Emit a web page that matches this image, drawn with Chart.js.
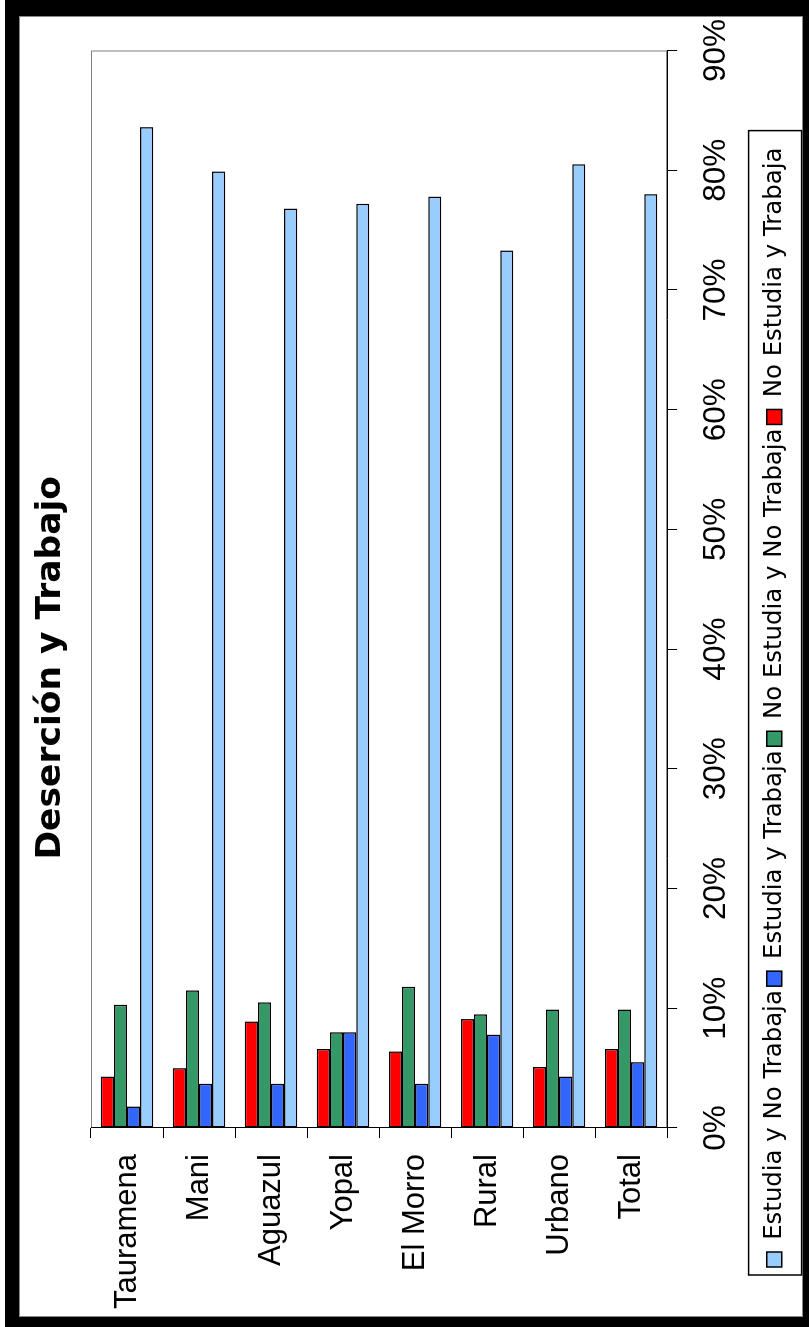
<!DOCTYPE html>
<html lang="es">
<head>
  <meta charset="UTF-8" />
  <title>Deserción y Trabajo</title>
  <script src="https://cdn.jsdelivr.net/npm/chart.js"></script>
  <style>
    html, body {
      margin: 0;
      padding: 0;
      background: #000;
    }
    body {
      width: 809px;
      height: 1327px;
      position: relative;
      overflow: hidden;
    }
    .strip {
      position: absolute;
      left: 0;
      top: 0;
      width: 5px;
      height: 1327px;
      background: #fff;
    }
    .frame {
      position: absolute;
      left: 19px;
      top: 16px;
      width: 784px;
      height: 1301px;
      background: #fff;
      box-sizing: border-box;
      border: 1px solid #8a8a8a;
    }
    /* the chart is a horizontal bar chart turned a quarter turn left */
    #chart {
      position: absolute;
      left: -1px;
      top: -1px;
      transform-origin: 0 0;
      transform: translateY(1301px) rotate(-90deg);
    }
  </style>
</head>
<body>
  <div class="strip"></div>
  <div class="frame">
    <canvas id="chart" width="1301" height="784"></canvas>
  </div>

  <script>
    const categories = ['Tauramena', 'Mani', 'Aguazul', 'Yopal', 'El Morro', 'Rural', 'Urbano', 'Total'];
    const noEstudiaTrabaja = [4.3, 5.0, 8.9, 6.6, 6.4, 9.1, 5.1, 6.6];
    const noEstudiaNoTrabaja = [10.3, 11.5, 10.5, 8.0, 11.8, 9.5, 9.9, 9.9];
    const estudiaTrabaja = [1.8, 3.7, 3.7, 8.0, 3.7, 7.8, 4.3, 5.5];
    const estudiaNoTrabaja = [83.6, 79.9, 76.8, 77.2, 77.8, 73.3, 80.5, 78.0];

    const axisFont = "'Liberation Sans', Arial, sans-serif";
    const textFont = "'DejaVu Sans', sans-serif";

    // grey border round the plot area (axes draw black over left/bottom)
    const plotFrame = {
      id: 'plotFrame',
      afterLayout(chart) {
        // let the category labels use the space left of the axis box
        chart.scales.y.left = 0;
        // title sits a little left of the centre in the original
        if (chart.titleBlock) {
          chart.titleBlock.left -= 7;
          chart.titleBlock.right -= 7;
        }
      },
      beforeDraw(chart) {
        const { ctx, chartArea: a } = chart;
        ctx.save();
        ctx.strokeStyle = '#808080';
        ctx.lineWidth = 1;
        ctx.strokeRect(a.left + 0.5, a.top + 0.5, a.right - a.left - 1, a.bottom - a.top - 1);
        ctx.restore();
      }
    };

    // box round the legend items
    const legendFrame = {
      id: 'legendFrame',
      afterDraw(chart) {
        const boxes = chart.legend.legendHitBoxes;
        if (!boxes || !boxes.length) return;
        const first = boxes[0];
        const last = boxes[boxes.length - 1];
        const x0 = first.left - 8;
        const x1 = last.left + last.width + 17;
        const y0 = first.top - 13.5;
        const y1 = first.top + 39.5;
        const ctx = chart.ctx;
        ctx.save();
        ctx.strokeStyle = '#000';
        ctx.lineWidth = 1.5;
        ctx.strokeRect(x0, y0, x1 - x0, y1 - y0);
        ctx.restore();
      }
    };

    const barStyle = {
      borderColor: '#000',
      borderWidth: 1.5,
      borderSkipped: false,
      categoryPercentage: 0.727,
      barPercentage: 1.0
    };

    new Chart(document.getElementById('chart'), {
      type: 'bar',
      data: {
        labels: categories,
        datasets: [
          { label: 'No Estudia y Trabaja', data: noEstudiaTrabaja, backgroundColor: '#FF0000', ...barStyle },
          { label: 'No Estudia y No Trabaja', data: noEstudiaNoTrabaja, backgroundColor: '#339966', ...barStyle },
          { label: 'Estudia y Trabaja', data: estudiaTrabaja, backgroundColor: '#3366FF', ...barStyle },
          { label: 'Estudia y No Trabaja', data: estudiaNoTrabaja, backgroundColor: '#99CCFF', ...barStyle }
        ]
      },
      options: {
        indexAxis: 'y',
        responsive: false,
        animation: false,
        events: [],
        layout: {
          padding: { left: 46, right: 34.5, top: 0, bottom: 6.5 }
        },
        plugins: {
          title: {
            display: true,
            text: 'Deserción y Trabajo',
            color: '#000',
            font: { family: textFont, weight: 'bold', size: 34.5 },
            padding: { top: 11, bottom: 19.6 }
          },
          legend: {
            position: 'bottom',
            align: 'start',
            reverse: true,
            labels: {
              color: '#000',
              boxWidth: 15,
              boxHeight: 15,
              padding: 4,
              font: { family: textFont, size: 24.4 }
            }
          },
          tooltip: { enabled: false }
        },
        scales: {
          x: {
            type: 'linear',
            position: 'bottom',
            min: 0,
            max: 90,
            ticks: {
              stepSize: 10,
              callback: v => v + '%',
              color: '#000',
              padding: 20,
              maxRotation: 0,
              font: { family: axisFont, size: 31.5 }
            },
            grid: { drawOnChartArea: false, drawTicks: true, tickLength: 10, color: '#000', lineWidth: 1 },
            border: { color: '#000', width: 1 },
            afterFit: s => {
              s.height = 91;
              s.paddingLeft = 0;
              s.paddingRight = 0;
            }
          },
          y: {
            type: 'category',
            position: 'left',
            ticks: {
              color: '#000',
              padding: 16,
              font: { family: axisFont, size: 31 }
            },
            grid: { offset: true, drawOnChartArea: false, drawTicks: true, tickLength: 10, color: '#000', lineWidth: 1 },
            border: { color: '#000', width: 1 },
            afterFit: s => { s.width = 143; }
          }
        }
      },
      plugins: [plotFrame, legendFrame]
    });
  </script>
</body>
</html>
